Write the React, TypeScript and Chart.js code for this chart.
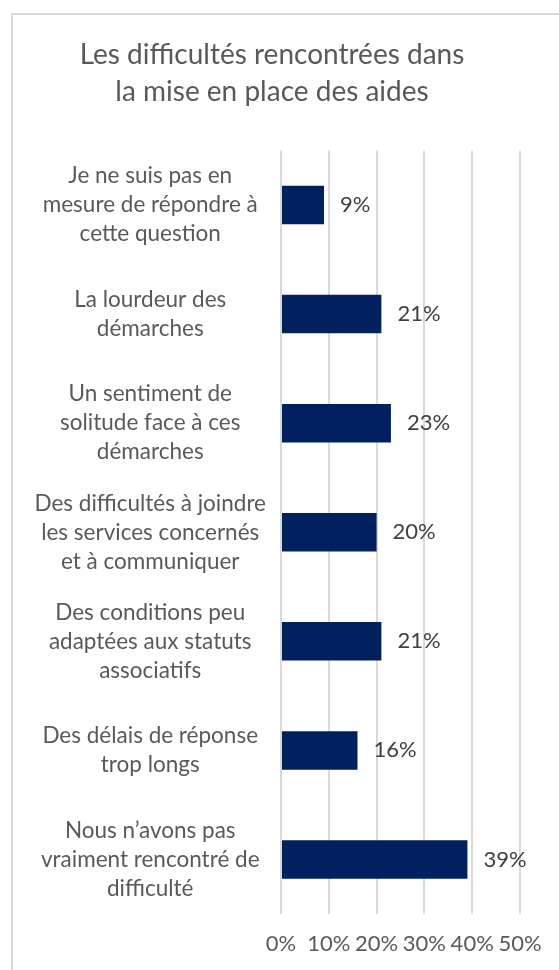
import React, { useEffect, useRef } from "react";
import { Chart, registerables } from "chart.js";

Chart.register(...registerables);

const titleLines = ["Les difficultés rencontrées dans", "la mise en place des aides"];

const categories: string[][] = [
  ["Je ne suis pas en", "mesure de répondre à", "cette question"],
  ["La lourdeur des", "démarches"],
  ["Un sentiment de", "solitude face à ces", "démarches"],
  ["Des difficultés à joindre", "les services concernés", "et à communiquer"],
  ["Des conditions peu", "adaptées aux statuts", "associatifs"],
  ["Des délais de réponse", "trop longs"],
  ["Nous n’avons pas", "vraiment rencontré de", "difficulté"],
];

const values: number[] = [9, 21, 23, 20, 21, 16, 39];

const axisMin = 0;
const axisMax = 50;
const axisStep = 10;

const FONT = "Lato";
const TEXT = "#595959";
const LABEL = "#404040";
const BAR = "#002060";
const GRID = "#d9d9d9";

export default function App() {
  const ref = useRef<HTMLCanvasElement | null>(null);

  useEffect(() => {
    const canvas = ref.current;
    if (!canvas) return;

    const valueLabels = {
      id: "valueLabels",
      afterDatasetsDraw(chart: any) {
        const ctx = chart.ctx;
        const meta = chart.getDatasetMeta(0);
        ctx.save();
        ctx.font = `22px ${FONT}`;
        ctx.fillStyle = LABEL;
        ctx.textAlign = "left";
        ctx.textBaseline = "middle";
        meta.data.forEach((bar: any, i: number) => {
          ctx.fillText(`${values[i]}%`, bar.x + 16, bar.y);
        });
        ctx.restore();
      },
    };

    const chartTitle = {
      id: "chartTitle",
      afterDraw(chart: any) {
        const ctx = chart.ctx;
        ctx.save();
        ctx.font = `28px ${FONT}`;
        ctx.fillStyle = TEXT;
        ctx.textAlign = "center";
        ctx.textBaseline = "middle";
        titleLines.forEach((line, i) => {
          ctx.fillText(line, 272, 54.5 + i * 37);
        });
        ctx.restore();
      },
    };

    const chart = new Chart(canvas, {
      type: "bar",
      data: {
        labels: categories,
        datasets: [
          {
            data: values,
            backgroundColor: BAR,
            barPercentage: 0.353,
            categoryPercentage: 1,
          },
        ],
      },
      options: {
        indexAxis: "y",
        responsive: false,
        animation: false,
        devicePixelRatio: 1,
        layout: { padding: { left: 0, right: 39, top: 150.5, bottom: 0 } },
        plugins: {
          legend: { display: false },
          tooltip: { enabled: false },
          title: { display: false },
        },
        scales: {
          x: {
            min: axisMin,
            max: axisMax,
            ticks: {
              stepSize: axisStep,
              callback: (v: any) => `${v}%`,
              color: TEXT,
              font: { family: FONT, size: 22 },
              padding: 17,
              maxRotation: 0,
              minRotation: 0,
              autoSkip: false,
            },
            grid: { color: GRID, lineWidth: 2, drawTicks: false },
            border: { display: false },
            afterFit: (s: any) => {
              s.height = 56;
            },
          },
          y: {
            ticks: {
              color: TEXT,
              font: { family: FONT, size: 22.5, lineHeight: "29px" },
              crossAlign: "center",
              padding: 15,
            },
            grid: { display: false, drawTicks: false },
            border: { display: false },
            afterFit: (s: any) => {
              s.width = 281;
              s.paddingTop = 0;
              s.paddingBottom = 0;
            },
          },
        },
      },
      plugins: [valueLabels, chartTitle],
    } as any);

    return () => chart.destroy();
  }, []);

  return (
    <div
      style={{
        position: "fixed",
        left: 0,
        top: 0,
        width: 559,
        height: 970,
        overflow: "hidden",
        background: "#ffffff",
      }}
    >
      <div
        style={{
          position: "absolute",
          left: 11,
          top: 13,
          width: 600,
          height: 1000,
          border: `2px solid ${GRID}`,
          boxSizing: "border-box",
        }}
      />
      <canvas
        ref={ref}
        width={559}
        height={970}
        style={{ position: "absolute", left: 0, top: 0, width: 559, height: 970 }}
      />
    </div>
  );
}
